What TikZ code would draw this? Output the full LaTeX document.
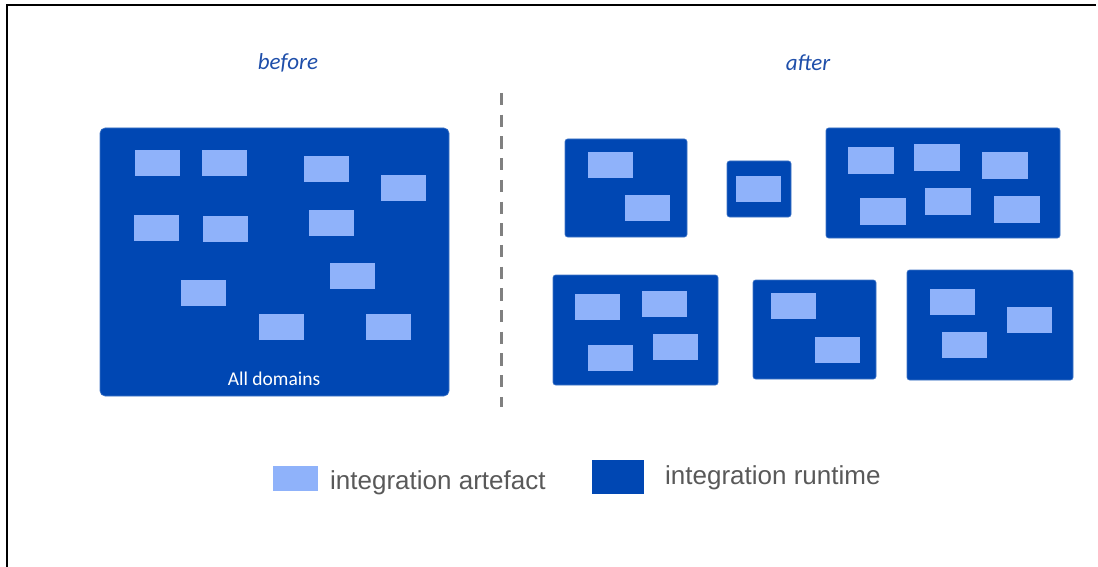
\documentclass[tikz,border=0pt]{standalone}
\usepackage{fontspec}
\setmainfont{Carlito}
\newfontfamily\legendfont{Liberation Sans}
\definecolor{boxblue}{HTML}{0047B3}
\definecolor{artblue}{HTML}{8FB2FA}
\definecolor{titleblue}{HTML}{1F4FAA}
\definecolor{legendgray}{HTML}{595959}
\definecolor{dashgray}{HTML}{808080}
\tikzset{
  runtime/.style={fill=boxblue, draw=boxblue!75!white, line width=0.6pt, rounded corners=2.5pt, inner sep=0pt, outer sep=0pt},
  bigruntime/.style={runtime, rounded corners=5pt},
  art/.style={fill=artblue, draw=none, inner sep=0pt, outer sep=0pt, minimum width=45pt, minimum height=26pt},
  artw/.style={art, minimum width=46pt, minimum height=27pt},
  title/.style={font=\itshape\fontsize{23}{27}\selectfont, text=titleblue, inner sep=0pt},
  legendtext/.style={font=\legendfont\fontsize{26}{30}\selectfont, text=legendgray, inner sep=0pt, anchor=base west},
  dashline/.style={dashgray, line width=3pt, dash pattern=on 12.3pt off 9.4pt},
  frameline/.style={black, line width=1.5pt}
}
\begin{document}
\begin{tikzpicture}[x=1pt, y=-1pt]
\useasboundingbox (0,0) rectangle (1098,567);
% frame
\coordinate (f1) at (7,568);
\coordinate (f2) at (7,5);
\coordinate (f3) at (1096,5);
\draw[frameline] (f1) -- (f2) -- (f3);

% titles
\node[title] (before) at (288,62.5) {before};
\node[title] (after) at (808,62.5) {after};

% divider
\coordinate (dtop) at (501.5,93);
\coordinate (dbot) at (501.5,407);
\draw[dashline] (dtop) -- (dbot);

% before: all domains
\node[bigruntime, minimum width=349pt, minimum height=268pt] (all) at (274.5,262) {};
\node[font=\fontsize{19.5}{23}\selectfont, text=white, inner sep=0pt] (alltext) at (274,378.5) {All domains};
\node[art] (b1) at (157.5,163) {};
\node[art] (b2) at (224.5,163) {};
\node[art] (b3) at (326.5,169) {};
\node[art] (b4) at (403.5,188) {};
\node[art] (b5) at (156.5,228) {};
\node[art] (b6) at (225.5,229) {};
\node[art] (b7) at (331.5,223) {};
\node[art] (b8) at (352.5,276) {};
\node[art] (b9) at (203.5,293) {};
\node[art] (b10) at (281.5,327) {};
\node[art] (b11) at (388.5,327) {};

% after: box A
\node[runtime, minimum width=122pt, minimum height=98pt] (ra) at (626,188) {};
\node[art] (a1) at (610.5,165) {};
\node[art] (a2) at (647.5,208) {};
% box B
\node[runtime, minimum width=64pt, minimum height=56pt] (rb) at (759,189) {};
\node[art] (bb1) at (758.5,189) {};
% box C
\node[runtime, minimum width=234pt, minimum height=110pt] (rc) at (943,183) {};
\node[artw] (c1) at (870.5,160.5) {};
\node[artw] (c2) at (937,157.5) {};
\node[artw] (c3) at (1005,166) {};
\node[artw] (c4) at (883,211.5) {};
\node[artw] (c5) at (948,201.5) {};
\node[artw] (c6) at (1016.5,209.5) {};
% box D
\node[runtime, minimum width=165pt, minimum height=110pt] (rd) at (635.5,330) {};
\node[art] (d1) at (597.5,307) {};
\node[art] (d2) at (664.5,304) {};
\node[art] (d3) at (610.5,358) {};
\node[art] (d4) at (675.5,347) {};
% box E
\node[runtime, minimum width=123pt, minimum height=99pt] (re) at (814.5,329.5) {};
\node[art] (e1) at (793.5,306) {};
\node[art] (e2) at (837.5,350) {};
% box F
\node[runtime, minimum width=166pt, minimum height=110pt] (rf) at (990,325) {};
\node[art] (g1) at (952.5,302) {};
\node[art] (g2) at (1029.5,320) {};
\node[art] (g3) at (964.5,345) {};

% legend
\node[art, minimum width=45pt, minimum height=25pt] (legart) at (295.5,478.5) {};
\node[legendtext] (legarttext) at (330,489) {integration artefact};
\node[fill=boxblue, inner sep=0pt, minimum width=52pt, minimum height=34pt] (legrt) at (618,477) {};
\node[legendtext] (legrttext) at (665,484) {integration runtime};
\end{tikzpicture}
\end{document}
